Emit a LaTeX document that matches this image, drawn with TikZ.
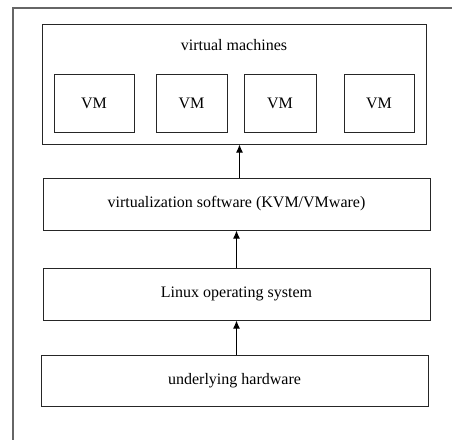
\documentclass[tikz,border=0pt]{standalone}
\usepackage{fontspec}
\setmainfont{Liberation Serif}
\usetikzlibrary{arrows.meta}

\begin{document}
\begin{tikzpicture}[x=1pt, y=-1pt]

\useasboundingbox (0, 0) rectangle (452, 440) ;

\def\layerwidth{387}
\def\layerheight{52}

\tikzstyle{frame line} = [line width=1.5pt, color=black!60]
\tikzstyle{layer text} = [font=\fontsize{16pt}{19pt}\selectfont]
\tikzstyle{layer box} = [layer text, draw=black!85, line width=1pt, inner sep=0pt, minimum width=\layerwidth pt, minimum height=\layerheight pt]
\tikzstyle{vm box} = [layer box, minimum height=58pt]
\tikzstyle{layer arrow} = [line width=1pt, color=black, -{Latex[length=8pt, width=7pt]}]

% outer frame

\draw [frame line] (452, 8) -- (13, 8) -- (13, 440) ;

% virtual machines

\node [layer box, minimum width=384pt, minimum height=120pt] (vms) at (234, 84) {} ;
\node [layer text] (vmslabel) at (234, 45) {virtual machines} ;

\foreach \vmx/\vmw [count=\i] in {94/80, 191.5/71, 280/72, 379/70}
	\node [vm box, minimum width=\vmw pt] (vm\i) at (\vmx, 103) {VM} ;

% layers

\node [layer box] (virt) at (236.5, 204) {virtualization software (KVM/VMware)} ;
\node [layer box] (linux) at (236.5, 294) {Linux operating system} ;
\node [layer box, minimum height=51pt] (hw) at (234.5, 380.5) {underlying hardware} ;

% arrows

\draw [layer arrow] (hw.north -| linux) -- (linux.south) ;
\draw [layer arrow] (linux.north) -- (virt.south) ;
\draw [layer arrow] ([xshift=3pt] virt.north) -- ([xshift=3pt] virt.north |- vms.south) ;

\end{tikzpicture}
\end{document}
